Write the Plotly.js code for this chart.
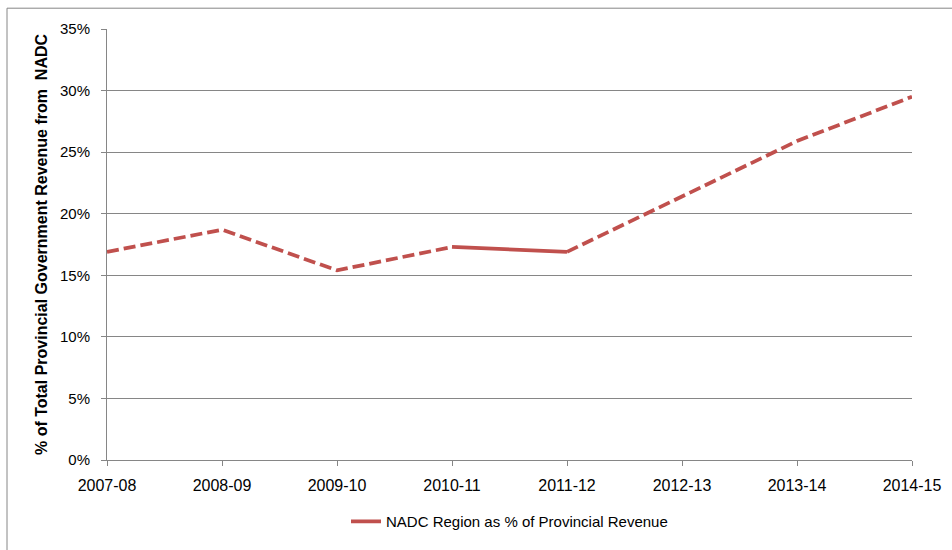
<!DOCTYPE html>
<html>
<head>
<meta charset="utf-8">
<script src="https://cdn.plot.ly/plotly-3.0.1.min.js"></script>
<style>
html,body{margin:0;padding:0;background:#fff;}
#chart{width:952px;height:550px;}
</style>
</head>
<body>
<div id="chart"></div>
<script>
// Data
const categories = ["2007-08","2008-09","2009-10","2010-11","2011-12","2012-13","2013-14","2014-15"];
const values = [0.169, 0.187, 0.154, 0.173, 0.169, 0.214, 0.259, 0.295];
const seriesName = "NADC Region as % of Provincial Revenue";
const yTitle = "% of Total Provincial Government Revenue from  NADC";
// segments: indices of dashed (estimated) vs solid (actual)
const dashedA = [0, 3];
const solidSeg = [3, 4];
const dashedB = [4, 7];

const color = "#C0504D";
function seg(r){ return {x: categories.slice(r[0], r[1]+1), y: values.slice(r[0], r[1]+1)}; }

const traces = [
  Object.assign(seg(dashedA), {type:"scatter", mode:"lines", name:seriesName, showlegend:false,
    line:{color:color, width:3.75, dash:"12px,5px"}}),
  Object.assign(seg(solidSeg), {type:"scatter", mode:"lines", name:seriesName, showlegend:true,
    line:{color:color, width:3.75}}),
  Object.assign(seg(dashedB), {type:"scatter", mode:"lines", name:seriesName, showlegend:false,
    line:{color:color, width:3.75, dash:"12px,5px"}})
];

const layout = {
  width:952, height:550,
  margin:{l:107, r:40, t:29, b:86},
  paper_bgcolor:"#fff", plot_bgcolor:"#fff",
  font:{family:"Liberation Sans, Arial, sans-serif", size:15, color:"#000"},
  xaxis:{
    type:"category", categoryorder:"array", categoryarray:categories,
    range:[0, categories.length-1],
    showgrid:false, zeroline:false,
    showline:true, linecolor:"#868686", linewidth:1,
    ticks:"outside", ticklen:5, tickcolor:"#868686",
    ticklabelstandoff:6,
    tickfont:{size:16, color:"#000"}
  },
  yaxis:{
    range:[0,0.35], dtick:0.05, tickformat:".0%",
    showgrid:true, gridcolor:"#868686", gridwidth:1,
    zeroline:false,
    showline:true, linecolor:"#868686", linewidth:1,
    ticks:"outside", ticklen:5, tickcolor:"#868686",
    ticklabelstandoff:8,
    tickfont:{size:15, color:"#000"},
    title:{text:"<b>"+yTitle+"</b>", font:{size:16, color:"#000"}, standoff:8}
  },
  showlegend:true,
  legend:{orientation:"h", x:0.5, xanchor:"center", y:-0.143, yanchor:"middle",
    font:{size:15, color:"#000"}, bgcolor:"rgba(0,0,0,0)"},
  shapes:[{type:"rect", xref:"paper", yref:"paper",
    x0:(7-107)/805, x1:1.2, y0:-0.3, y1:1+(29-8)/435,
    line:{color:"#868686", width:1}, fillcolor:"rgba(0,0,0,0)", layer:"below"}]
};

Plotly.newPlot("chart", traces, layout, {displayModeBar:false, staticPlot:true});
</script>
</body>
</html>
